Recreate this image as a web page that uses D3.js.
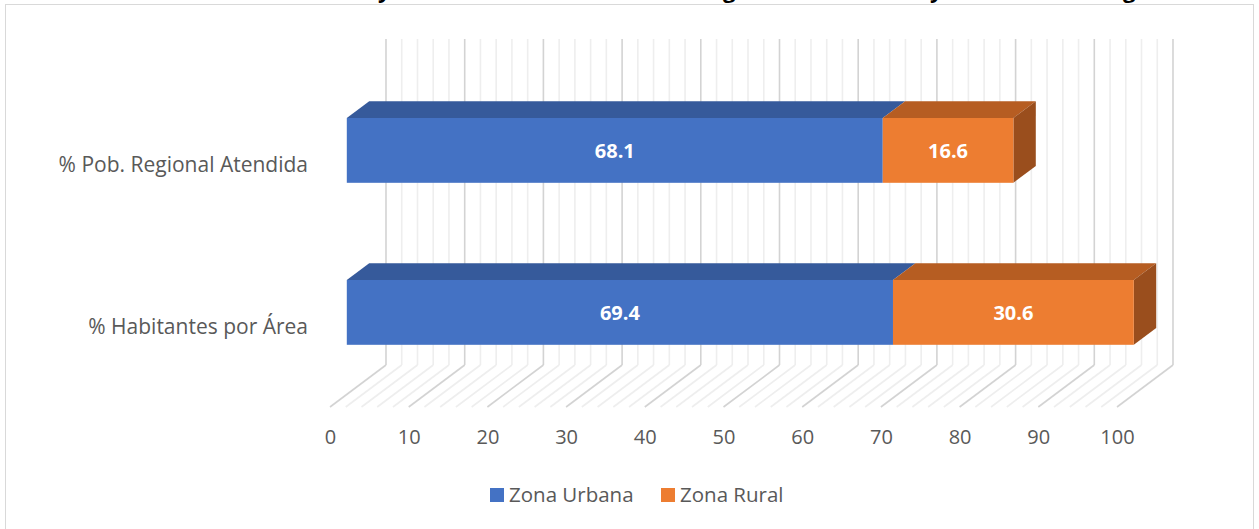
<!DOCTYPE html>
<html><head><meta charset="utf-8">
<script src="https://cdn.jsdelivr.net/npm/d3@7"></script>
<style>
html,body{margin:0;padding:0;background:#fff;overflow:hidden}
svg{display:block;font-family:"Open Sans",sans-serif}
</style></head>
<body>
<svg id="chart" width="1259" height="529"></svg>
<script>
// ---- data ----
const categories = ["% Pob. Regional Atendida", "% Habitantes por Área"];
const seriesNames = ["Zona Urbana", "Zona Rural"];
const urbana = [68.1, 69.4];
const rural = [16.6, 30.6];
const xTicks = [0, 10, 20, 30, 40, 50, 60, 70, 80, 90, 100];
const titleParts = ["Población Atendida en Zona Urbana ", "y Rural con Relación a la Re", "gión Urbana ", "y Rural de la Re", "gión"];

const colors = {
  "Zona Urbana": {front: "#4472C4", top: "#365a9b", side: "#2f4f88"},
  "Zona Rural": {front: "#ED7D31", top: "#b65d22", side: "#9a4e1d"}
};

const svg = d3.select("#chart");

// projection parameters
const depthDX = 56, depthDY = -42;
const x = d3.scaleLinear().domain([0, 100]).range([330, 1117]);
const y = d3.scaleBand().domain(categories).range([82, 406]).paddingInner(0.6).paddingOuter(0.3);
const P = (v, yy, d) => [x(v) + d * depthDX, yy + d * depthDY];

// chart border
svg.append("rect").attr("x", 5.5).attr("y", 4.5).attr("width", 1248).attr("height", 540)
  .attr("fill", "none").attr("stroke", "#d9d9d9").attr("stroke-width", 1);

// title (cut off above the frame, as in the reference)
const title = svg.append("text").attr("y", -2).attr("font-size", 22).attr("font-weight", "bold").attr("fill", "#000");
const titleX = [null, 378, 723, 930, 1123];
titleParts.forEach((t, i) => {
  title.append("tspan").attr("class", "tp" + i).text(t);
});
{
  const first = title.select(".tp0");
  const len = first.node().getComputedTextLength();
  first.attr("x", titleX[1] - len);
  for (let i = 1; i < titleParts.length; i++) title.select(".tp" + i).attr("x", titleX[i]);
}

// gridlines: back wall + floor
const wallTop = 39;
const floorFrontY = 407;
const minorTicks = d3.range(0, 101, 2);
const grid = svg.append("g");
minorTicks.forEach(v => {
  const major = v % 10 === 0;
  const col = major ? "#d3d3d3" : "#eeeeee";
  const back = P(v, floorFrontY, 1);
  grid.append("line").attr("x1", back[0]).attr("x2", back[0]).attr("y1", wallTop).attr("y2", back[1])
    .attr("stroke", col).attr("stroke-width", 1.6);
  const front = P(v, floorFrontY, 0);
  grid.append("line").attr("x1", back[0]).attr("y1", back[1]).attr("x2", front[0]).attr("y2", front[1])
    .attr("stroke", col).attr("stroke-width", 1.6);
});

// bars
const d0 = 0.3, d1 = 0.7;
const barsG = svg.append("g");
categories.forEach((cat, i) => {
  const segs = [
    {name: "Zona Urbana", start: 0, end: urbana[i], val: urbana[i]},
    {name: "Zona Rural", start: urbana[i], end: urbana[i] + rural[i], val: rural[i]}
  ];
  const yt = y(cat), yb = y(cat) + y.bandwidth();
  segs.forEach((s, k) => {
    const c = colors[s.name];
    const ftl = P(s.start, yt, d0), ftr = P(s.end, yt, d0), fbr = P(s.end, yb, d0), fbl = P(s.start, yb, d0);
    const btl = P(s.start, yt, d1), btr = P(s.end, yt, d1), bbr = P(s.end, yb, d1);
    barsG.append("polygon").attr("points", [ftl, btl, btr, ftr].map(p => p.join(",")).join(" "))
      .attr("fill", c.top);
    if (k === segs.length - 1) {
      barsG.append("polygon").attr("points", [ftr, btr, bbr, fbr].map(p => p.join(",")).join(" "))
        .attr("fill", c.side);
    }
    barsG.append("rect").attr("x", ftl[0]).attr("y", ftl[1]).attr("width", ftr[0] - ftl[0]).attr("height", fbl[1] - ftl[1])
      .attr("fill", c.front);
    barsG.append("text").attr("x", (ftl[0] + ftr[0]) / 2).attr("y", (ftl[1] + fbl[1]) / 2 + 7.5)
      .attr("text-anchor", "middle").attr("font-size", 20).attr("font-weight", "bold").attr("fill", "#fff")
      .text(s.val.toFixed(1));
  });
});

// category labels
categories.forEach(cat => {
  svg.append("text").attr("x", 308).attr("y", y(cat) + y.bandwidth() / 2 + 9)
    .attr("text-anchor", "end").attr("font-size", 21).attr("fill", "#595959").text(cat);
});

// x axis tick labels
const axisG = svg.append("g").attr("transform", "translate(0,444)");
const axis = d3.axisBottom(x).tickValues(xTicks).tickSize(0).tickPadding(0);
axisG.call(axis);
axisG.select(".domain").remove();
axisG.selectAll("text").attr("font-size", 20).attr("fill", "#595959").attr("font-family", "Open Sans, sans-serif")
  .attr("dy", 0).attr("y", 0);

// legend
const legend = svg.append("g");
const legendX = [490, 661];
seriesNames.forEach((n, i) => {
  legend.append("rect").attr("x", legendX[i]).attr("y", 488).attr("width", 14).attr("height", 14).attr("fill", colors[n].front);
  legend.append("text").attr("x", legendX[i] + 19).attr("y", 502).attr("font-size", 20.5).attr("fill", "#595959").text(n);
});
</script>
</body></html>
